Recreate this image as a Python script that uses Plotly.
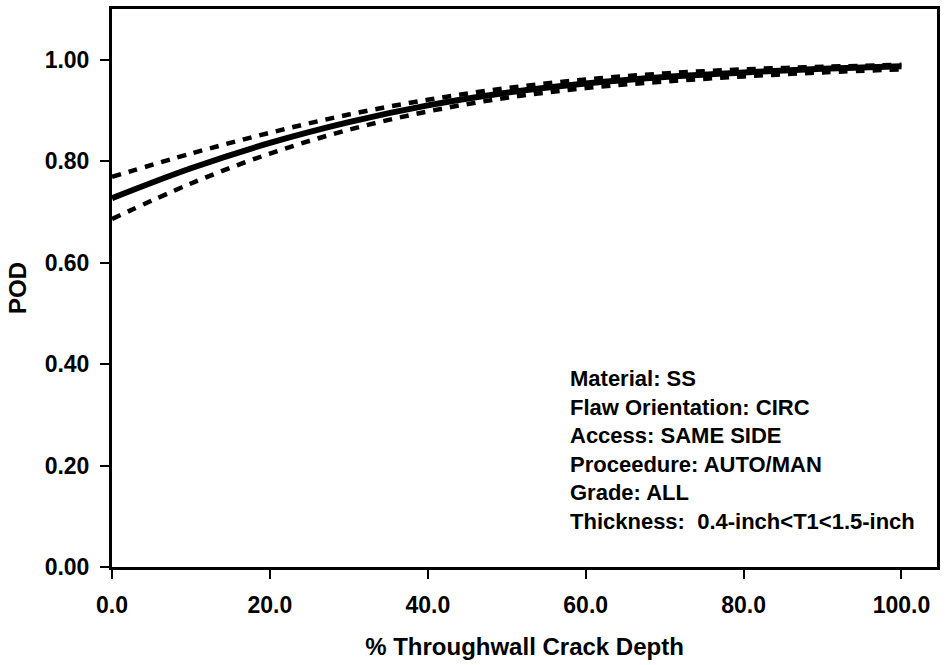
import plotly.graph_objects as go

depth = [0, 10, 20, 30, 40, 50, 60, 70, 80, 90, 100]
pod_fit = [0.727, 0.786, 0.836, 0.877, 0.910, 0.935, 0.953, 0.966, 0.975, 0.982, 0.987]
pod_upper = [0.769, 0.815, 0.856, 0.892, 0.921, 0.944, 0.961, 0.973, 0.981, 0.986, 0.990]
pod_lower = [0.686, 0.756, 0.815, 0.862, 0.898, 0.925, 0.944, 0.957, 0.967, 0.975, 0.981]

info_lines = [
    "Material: SS",
    "Flaw Orientation: CIRC",
    "Access: SAME SIDE",
    "Proceedure: AUTO/MAN",
    "Grade: ALL",
    "Thickness:  0.4-inch&lt;T1&lt;1.5-inch",
]

x_ticks = [0, 20, 40, 60, 80, 100]
x_labels = ["0.0", "20.0", "40.0", "60.0", "80.0", "100.0"]
y_ticks = [0, 0.2, 0.4, 0.6, 0.8, 1.0]
y_labels = ["0.00", "0.20", "0.40", "0.60", "0.80", "1.00"]

FAM = "Liberation Sans, Arial, Helvetica"

fig = go.Figure()
fig.add_trace(go.Scatter(x=depth, y=pod_upper, mode="lines", line=dict(color="black", width=4.5, dash="9px,8px"), line_shape="spline", showlegend=False))
fig.add_trace(go.Scatter(x=depth, y=pod_lower, mode="lines", line=dict(color="black", width=4.5, dash="9px,8px"), line_shape="spline", showlegend=False))
fig.add_trace(go.Scatter(x=depth, y=pod_fit, mode="lines", line=dict(color="black", width=6), line_shape="spline", showlegend=False))

fig.add_annotation(
    x=0.553, y=0.209, xref="paper", yref="paper", xanchor="left", yanchor="middle",
    text="<br>".join("<b>" + s + "</b>" for s in info_lines), showarrow=False, align="left",
    font=dict(family=FAM, size=22, color="black"),
)

tick_font = dict(family=FAM, size=23, color="black", weight="bold")
title_font = dict(family=FAM, size=24, color="black", weight="bold")
fig.update_layout(
    width=946, height=665,
    margin=dict(l=112, r=8, t=6, b=98),
    plot_bgcolor="white", paper_bgcolor="white",
    font=dict(family=FAM, color="black"),
    xaxis=dict(
        range=[0, 104.5], tickvals=x_ticks, ticktext=x_labels,
        ticks="outside", ticklen=9, tickwidth=2, tickcolor="black",
        ticklabelstandoff=6,
        showline=True, linecolor="black", linewidth=3, mirror=True,
        showgrid=False, zeroline=False,
        title=dict(text="% Throughwall Crack Depth", font=title_font, standoff=22),
        tickfont=tick_font,
    ),
    yaxis=dict(
        range=[0, 1.1], tickvals=y_ticks, ticktext=y_labels,
        ticks="outside", ticklen=9, tickwidth=2, tickcolor="black",
        ticklabelstandoff=6,
        showline=True, linecolor="black", linewidth=3, mirror=True,
        showgrid=False, zeroline=False,
        title=dict(text="POD", font=title_font, standoff=12),
        tickfont=tick_font,
    ),
)

fig.write_html("out.html")
